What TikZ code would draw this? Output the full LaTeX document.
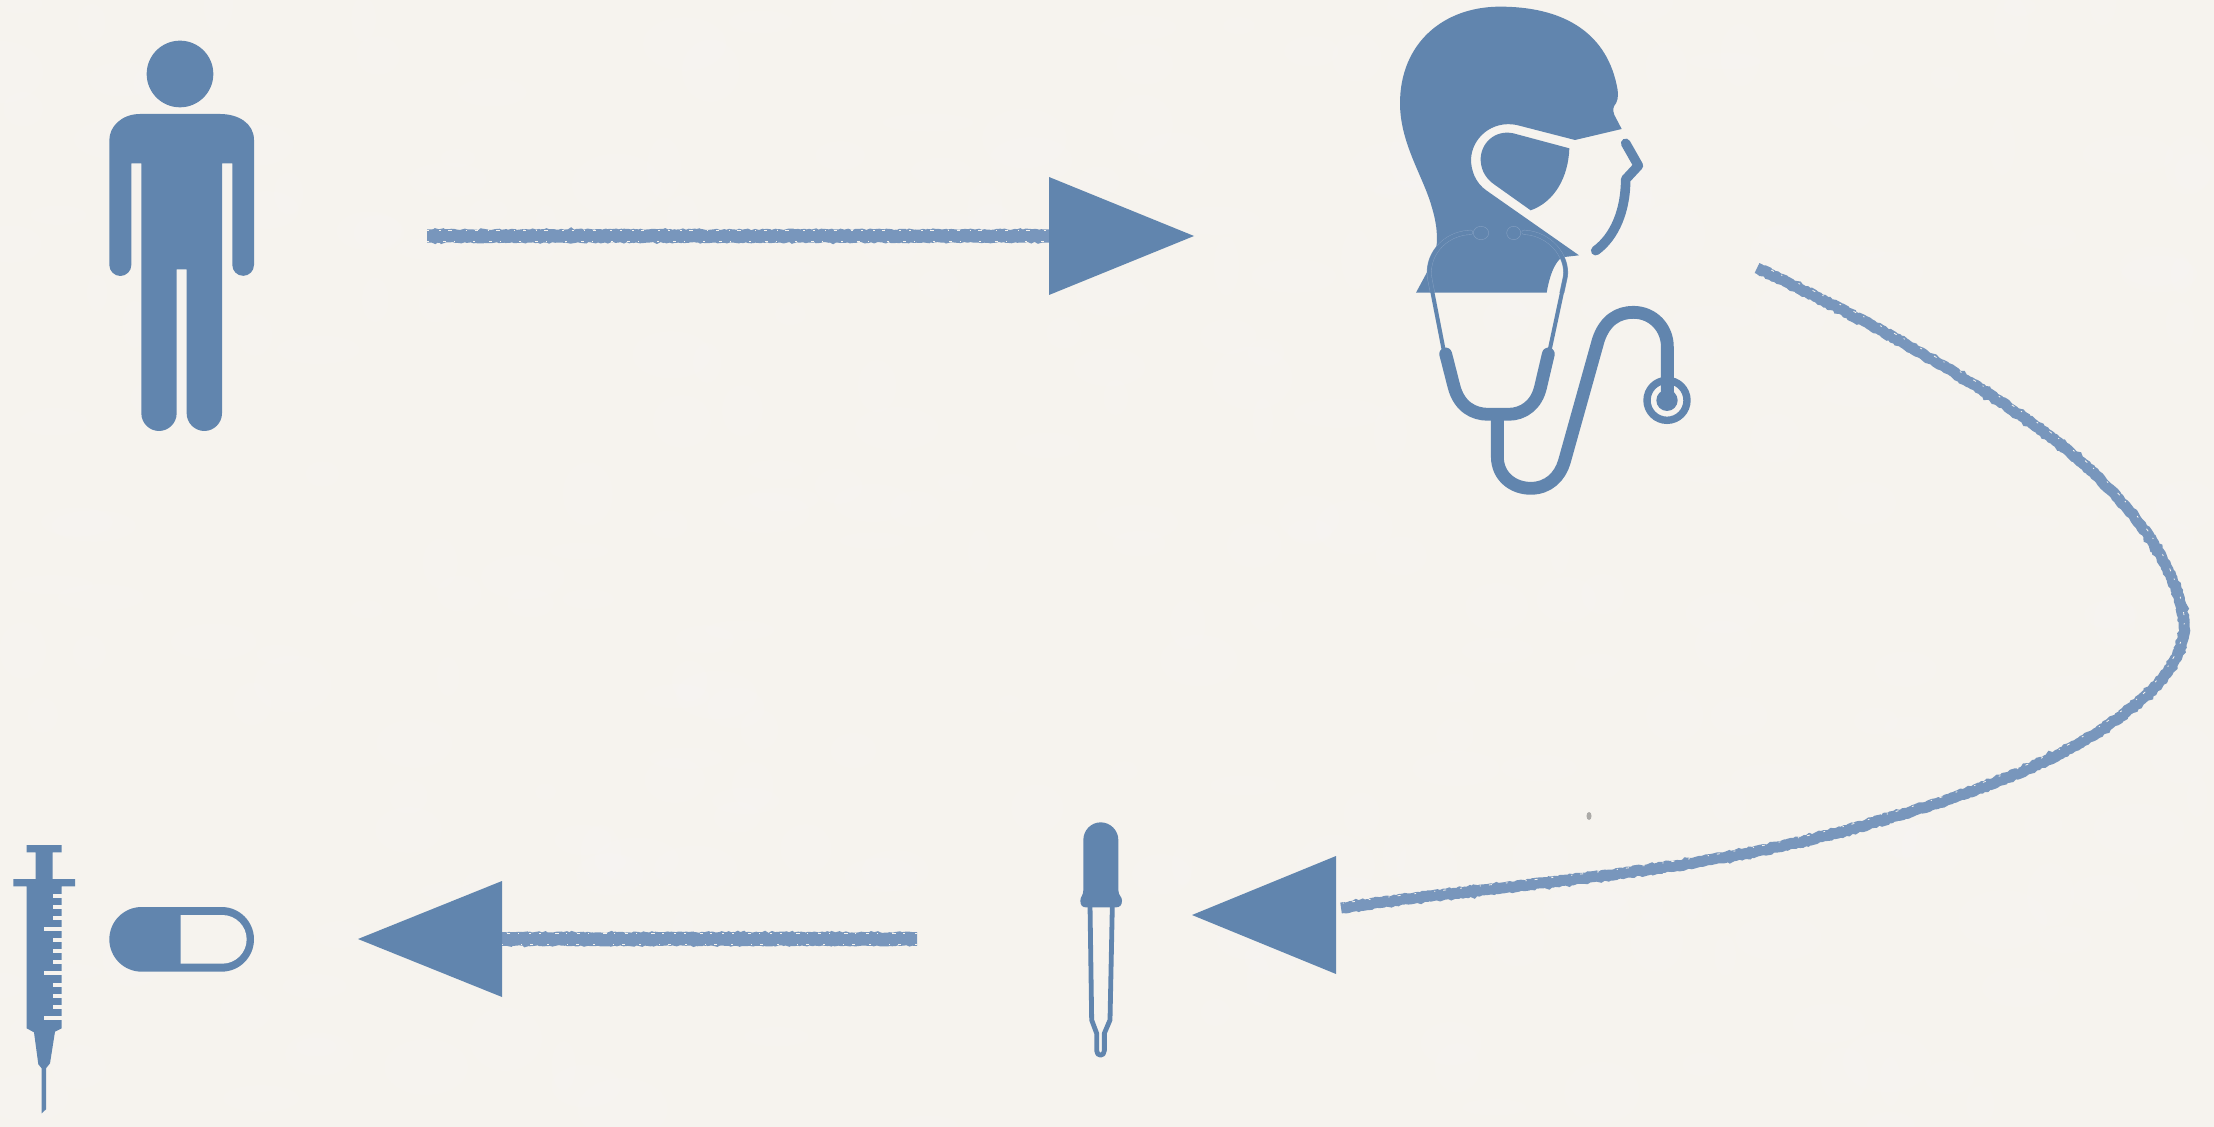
\documentclass[tikz,border=0pt]{standalone}
\usetikzlibrary{decorations.pathmorphing}
\definecolor{paper}{HTML}{F6F3EE}
\definecolor{iconblue}{HTML}{6185AE}
\definecolor{chalk}{HTML}{7896BC}
\definecolor{halo}{HTML}{86A1C3}
\tikzset{
  icon/.style={fill=iconblue,draw=none},
  hole/.style={fill=paper,draw=none},
  tubeline/.style={draw=iconblue,line cap=round,line join=round},
  chalkline/.style={draw=chalk,decorate,decoration={random steps,segment length=1.1pt,amplitude=0.35pt,pre=lineto,pre length=1.5pt,post=lineto,post length=1.5pt}},
  specks/.style={draw=paper,line width=0.5pt,dash pattern=on 1.2pt off 5pt on 0.7pt off 3.6pt on 1.8pt off 7pt on 0.8pt off 4pt},
  specksb/.style={draw=paper,line width=0.4pt,dash pattern=on 0.9pt off 7pt on 1.5pt off 4pt on 0.6pt off 9pt},
}
\newcommand{\curveB}{(arrowBstart)
  .. controls (1850,312) and (1950,365) .. (2037,427)
  .. controls (2115,482) and (2175,555) .. (2184,620)
  .. controls (2187,650) and (2165,684) .. (2126,712)
  .. controls (2060,765) and (1950,802) .. (1840,832)
  .. controls (1680,875) and (1500,885) .. (arrowBend)}
\begin{document}
\begin{tikzpicture}[x=0.5pt,y=-0.5pt]
\pgfmathsetseed{11}
\useasboundingbox (0,0) rectangle (2214,1127);
\fill[paper] (0,0) rectangle (2214,1127);
% faint mottling of the paper
\foreach \blotch in {1,...,300}{
  \pgfmathsetmacro{\bx}{rnd*2214}
  \pgfmathsetmacro{\by}{rnd*1127}
  \pgfmathsetmacro{\brx}{5+rnd*18}
  \pgfmathsetmacro{\bry}{4+rnd*12}
  \fill[white,opacity=0.07] (\bx,\by) ellipse (\brx pt and \bry pt);
}
\fill[black!30!paper] (1589,816) ellipse (2.5 and 4);

% connector end points
\coordinate (arrowAstart) at (427,236);
\coordinate (arrowAend) at (1049,236);
\coordinate (arrowBstart) at (1757,268);
\coordinate (arrowBend) at (1341,908);
\coordinate (arrowCstart) at (917,939);
\coordinate (arrowCend) at (502,939);

% connector A
\draw[chalkline,line width=6.6pt] (arrowAstart) -- (arrowAend);
\draw[specks,transform canvas={yshift=2.7pt}] (arrowAstart) -- (arrowAend);
\draw[specksb,transform canvas={yshift=-2.8pt}] (arrowAstart) -- (arrowAend);
\fill[icon] (1049,177) -- (1194,236) -- (1049,295) -- cycle;

% connector C
\draw[chalkline,line width=6.8pt] (arrowCstart) -- (arrowCend);
\draw[specks,transform canvas={yshift=2.7pt}] (arrowCstart) -- (arrowCend);
\draw[specksb,transform canvas={yshift=-2.8pt}] (arrowCstart) -- (arrowCend);
\fill[icon] (502,881) -- (358,939) -- (502,997) -- cycle;

% connector B
\draw[chalkline,line width=5.5pt,decoration={random steps,segment length=1.3pt,amplitude=0.45pt,pre=lineto,pre length=1.5pt,post=lineto,post length=1.5pt}] \curveB;
\draw[specksb,transform canvas={yshift=2.3pt}] \curveB;
\fill[icon] (1336,856) -- (1192,915) -- (1336,974) -- cycle;

% person
\begin{scope}[shift={(90,30)},scale=1/3]
  \fill[icon] (270,132) circle (100);
  \fill[icon] (150,252) -- (390,252)
    .. controls (445,252) and (492,280) .. (492,330)
    -- (492,705) .. controls (492,723) and (477.5,737.5) .. (459.5,737.5)
    .. controls (441.5,737.5) and (427,723) .. (427,705)
    -- (427,400) -- (396,400) -- (396,1150)
    .. controls (396,1179) and (372,1203) .. (343,1203)
    .. controls (314,1203) and (290,1179) .. (290,1150)
    -- (290,718) -- (260,718) -- (260,1150)
    .. controls (260,1179) and (236,1203) .. (207,1203)
    .. controls (178,1203) and (154,1179) .. (154,1150)
    -- (154,400) -- (124,400) -- (124,705)
    .. controls (124,723) and (109,738) .. (91,738)
    .. controls (73,738) and (58,723) .. (58,705)
    -- (58,330) .. controls (58,290) and (95,252) .. cycle;
\end{scope}

% masked doctor with stethoscope
\begin{scope}[shift={(1380,0)},scale=1/3]
  \fill[icon] (725,387) -- (703,345)
    .. controls (697,330) and (700,318) .. (708,310)
    .. controls (716,295) and (715,275) .. (710,255)
    .. controls (675,90) and (540,20) .. (360,20)
    .. controls (190,20) and (60,130) .. (60,310)
    .. controls (60,430) and (130,530) .. (155,620)
    .. controls (170,670) and (172,700) .. (170,735)
    -- (150,800) -- (108,878) -- (500,878)
    .. controls (508,830) and (522,790) .. (545,772)
    -- (597,766) -- (320,572)
    .. controls (285,548) and (273,510) .. (273,478)
    .. controls (275,415) and (335,360) .. (410,375)
    -- (585,420) -- cycle;
  \fill[icon] (568,445) -- (400,400)
    .. controls (345,388) and (300,430) .. (302,482)
    .. controls (304,515) and (320,538) .. (345,555)
    -- (452,631)
    .. controls (525,605) and (565,530) .. (568,445) -- cycle;
  \draw[tubeline,line width=4.8pt] (737,430) -- (775,497) -- (737,538)
    .. controls (737,630) and (705,710) .. (647,752);
  % ear tubes, seen as a fine outline over the head
  \begin{scope}
    \clip (100,640) rectangle (600,878);
    \draw[draw=halo,line width=2.4pt,line cap=round,line join=round]
      (190,1045) -- (150,840) .. controls (135,770) and (190,700) .. (272,697);
    \draw[draw=halo,line width=2.4pt,line cap=round,line join=round]
      (510,1045) -- (556,830) .. controls (565,770) and (510,700) .. (432,697);
  \end{scope}
  \draw[tubeline,line width=2pt]
    (190,1045) -- (150,840) .. controls (135,770) and (190,700) .. (272,697);
  \draw[tubeline,line width=2pt]
    (510,1045) -- (556,830) .. controls (565,770) and (510,700) .. (432,697);
  \filldraw[fill=iconblue,draw=halo,line width=0.2pt] (303,699) ellipse (23 and 20);
  \filldraw[fill=iconblue,draw=halo,line width=0.2pt] (401,699) ellipse (21 and 20);
  \draw[tubeline,line width=6.4pt,line cap=butt]
    (352,1243) -- (352,1370)
    .. controls (352,1430) and (400,1465) .. (452,1465)
    .. controls (505,1465) and (540,1430) .. (553,1385)
    -- (655,1020)
    .. controls (675,960) and (715,937) .. (760,937)
    .. controls (820,937) and (862,985) .. (862,1040)
    -- (862,1190);
  \draw[tubeline,line width=6.4pt,line cap=round]
    (197,1062) -- (222,1160)
    .. controls (238,1220) and (280,1243) .. (325,1243)
    -- (385,1243)
    .. controls (430,1243) and (470,1215) .. (482,1160)
    -- (505,1062);
  \draw[tubeline,line width=3.7pt] (861,1201) circle (60);
  \fill[icon] (861,1201) circle (32);
\end{scope}

% dropper
\begin{scope}[shift={(1050,810)},scale=1/3]
  \draw[tubeline,line width=2.4pt]
    (120,285) -- (125,630) -- (140,670) -- (140,722)
    .. controls (140,740) and (163,740) .. (163,722)
    -- (163,670) -- (180,630) -- (187,285);
  \fill[icon] (100,90) .. controls (100,61) and (123,37) .. (152,37)
    .. controls (181,37) and (205,61) .. (205,90)
    -- (205,240) .. controls (205,258) and (216,258) .. (216,272)
    .. controls (216,287) and (208,292) .. (198,292)
    -- (108,292) .. controls (98,292) and (91,287) .. (91,272)
    .. controls (91,258) and (100,258) .. (100,240) -- cycle;
\end{scope}

% syringe
\begin{scope}[shift={(0,820)},scale=1/3]
  \fill[icon] (80,75) -- (185,75) -- (185,97) -- (158,97) -- (158,177)
    -- (225,177) -- (225,199) -- (185,199) -- (185,625) -- (165,635)
    -- (150,730) -- (138,745) -- (138,868) -- (125,880) -- (125,745)
    -- (115,733) -- (102,637) -- (80,625) -- (80,199) -- (40,199)
    -- (40,177) -- (107,177) -- (107,97) -- (80,97) -- cycle;
  \foreach \ytick in {221,254,288,354,388,421,488,521,554}
    \fill[hole] (158,\ytick) rectangle (186,\ytick+12);
  \foreach \ytick in {321,454,587}
    \fill[hole] (133,\ytick) rectangle (186,\ytick+12);
  % capsule
  \fill[icon] (425,261) -- (665,261)
    .. controls (718.6,261) and (762,304.4) .. (762,358)
    .. controls (762,411.6) and (718.6,455) .. (665,455)
    -- (425,455)
    .. controls (371.4,455) and (328,411.6) .. (328,358)
    .. controls (328,304.4) and (371.4,261) .. cycle;
  \fill[hole] (542,285) -- (667,285)
    .. controls (707,285) and (740,318) .. (740,358)
    .. controls (740,398) and (707,431) .. (667,431)
    -- (542,431) -- cycle;
\end{scope}
\end{tikzpicture}
\end{document}
